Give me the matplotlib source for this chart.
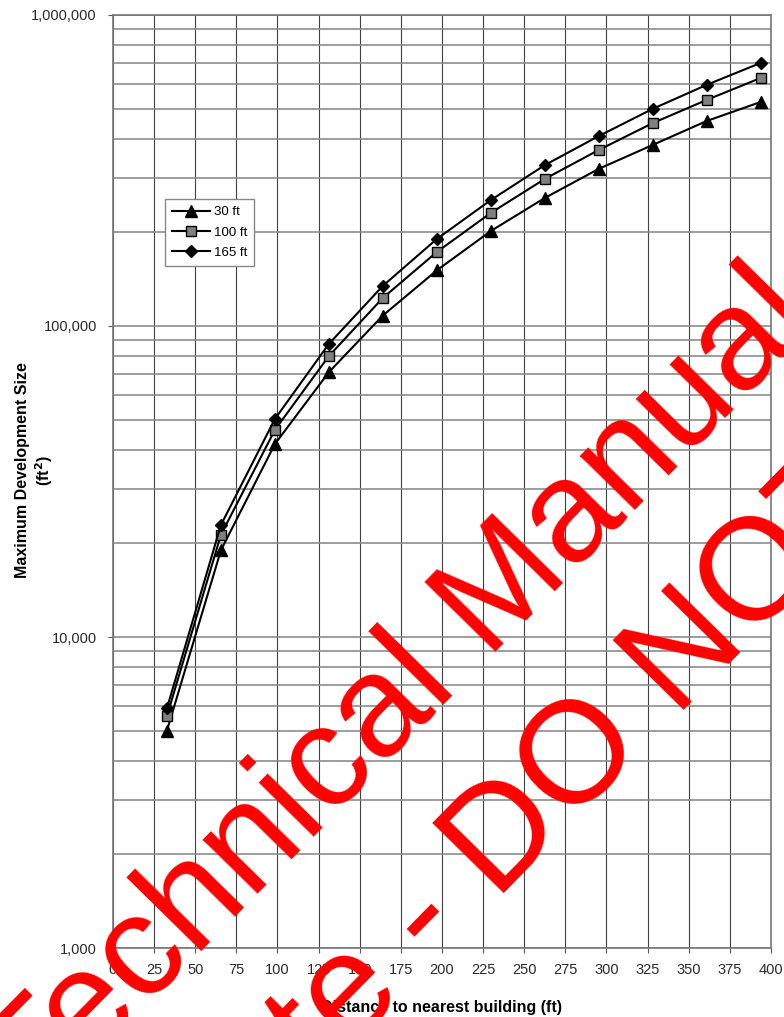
import numpy as np
import matplotlib
matplotlib.use('Agg')
import matplotlib.pyplot as plt
from matplotlib.ticker import FixedLocator, LogLocator, NullFormatter, FuncFormatter

plt.rcParams['font.family'] = ['Liberation Sans', 'DejaVu Sans']

# distances (ft) - 10 m steps
distance = [32.8, 65.6, 98.4, 131.2, 164.0, 196.9, 229.7, 262.5, 295.3, 328.1, 360.9, 393.7]

size_30 = [5000, 19000, 41700, 71000, 108000, 151000, 202000, 258000, 320000, 382000, 456000, 525000]
size_100 = [5570, 21300, 46300, 80000, 123000, 173000, 231000, 297000, 368000, 449000, 533000, 627000]
size_165 = [5900, 22900, 50200, 87500, 134500, 190500, 254000, 329000, 408000, 499000, 596000, 701000]

series_labels = ['30 ft', '100 ft', '165 ft']
x_ticks = list(range(0, 401, 25))
y_ticks = [1000, 10000, 100000, 1000000]

fig = plt.figure(figsize=(7.84, 10.17), dpi=100)
ax = fig.add_axes([0.1441, 0.0678, 0.8393, 0.9175])

ax.plot(distance, size_30, color='black', lw=1.5, marker='^', ms=8,
        mfc='black', mec='black', label=series_labels[0], zorder=5)
ax.plot(distance, size_100, color='black', lw=1.5, marker='s', ms=7,
        mfc='#808080', mec='black', mew=1.0, label=series_labels[1], zorder=5)
ax.plot(distance, size_165, color='black', lw=1.5, marker='D', ms=6,
        mfc='black', mec='black', label=series_labels[2], zorder=5)

ax.set_yscale('log')
ax.set_xlim(0, 400)
ax.set_ylim(1000, 1000000)

ax.xaxis.set_major_locator(FixedLocator(x_ticks))
ax.yaxis.set_major_locator(FixedLocator(y_ticks))
ax.yaxis.set_minor_locator(LogLocator(base=10, subs=np.arange(2, 10)))
ax.yaxis.set_minor_formatter(NullFormatter())
ax.yaxis.set_major_formatter(FuncFormatter(lambda v, p: f'{int(v):,}'))

ax.tick_params(axis='both', which='major', labelsize=10.5, direction='out', length=3.6,
               color='#555555', labelcolor='#2a2a2a')
ax.tick_params(axis='x', which='major', pad=7.5)
ax.tick_params(axis='y', which='major', pad=8)
ax.tick_params(axis='y', which='minor', length=0)

ax.grid(True, axis='x', which='major', color='#404040', lw=0.8)
ax.grid(True, axis='y', which='both', color='#8c8c8c', lw=1.2)
ax.set_axisbelow(True)
for s in ax.spines.values():
    s.set_color('#777777')
    s.set_linewidth(1.2)

ax.set_xlabel('Distance to nearest building (ft)', fontsize=11.5, fontweight='bold', labelpad=16)
ax.set_ylabel('Maximum Development Size\n(ft$^\\mathbf{2}$)', fontsize=11.5, fontweight='bold')
ax.yaxis.set_label_coords(-0.088, 0.512)

leg = ax.legend(loc='upper left', bbox_to_anchor=(0.079, 0.803), borderaxespad=0,
                fontsize=9.5, handlelength=2.9, labelspacing=0.62, fancybox=False,
                framealpha=1, edgecolor='#888888', borderpad=0.55, handletextpad=0.25)
leg.get_frame().set_linewidth(1.0)

# diagonal watermark
fig.text(0.0481, -0.0996, 'Technical Manual', color='#ff0000', fontsize=104,
         rotation=45.5, rotation_mode='anchor', ha='left', va='baseline')
fig.text(0.2458, -0.1896, 'Note - DO NOT CITE', color='#ff0000', fontsize=104,
         rotation=45.5, rotation_mode='anchor', ha='left', va='baseline')

fig.savefig('out.png', dpi=100)
